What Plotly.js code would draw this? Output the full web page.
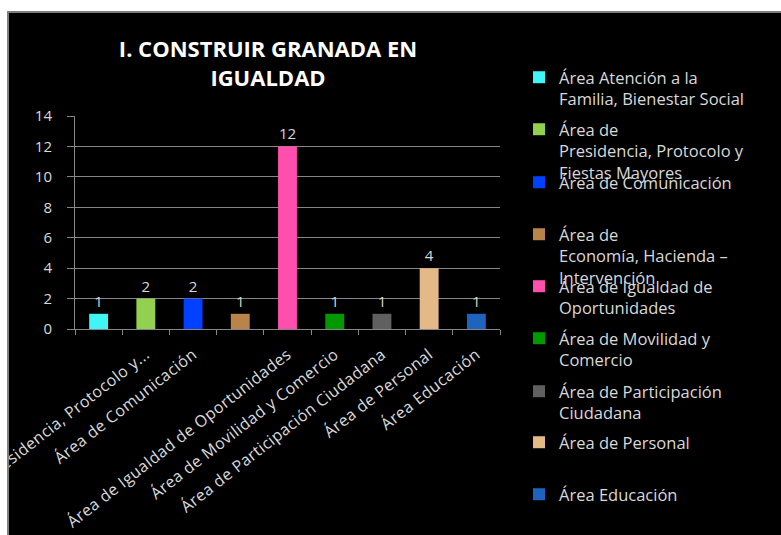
<!DOCTYPE html>
<html>
<head>
<meta charset="utf-8">
<script src="https://cdn.plot.ly/plotly-3.0.1.min.js"></script>
<style>
  html, body { margin: 0; padding: 0; background: #ffffff; width: 781px; height: 535px; overflow: hidden; }
  #wrap { position: absolute; left: 7px; top: 11px; width: 772px; height: 522px;
          border-left: 2px solid #7f7f7f; border-top: 2px solid #7f7f7f; background: #000; }
  #chart { width: 772px; height: 522px; }
  #chart .xtick text { letter-spacing: 0.4px; }
</style>
</head>
<body>
<div id="wrap"><div id="chart"></div></div>
<script>
// ---- data ----
const categories = [
  "Área Atención a la Familia, Bienestar Social",
  "Área de Presidencia, Protocolo y Fiestas Mayores",
  "Área de Comunicación",
  "Área de Economía, Hacienda – Intervención",
  "Área de Igualdad de Oportunidades",
  "Área de Movilidad y Comercio",
  "Área de Participación Ciudadana",
  "Área de Personal",
  "Área Educación"
];
const values = [1, 2, 2, 1, 12, 1, 1, 4, 1];
const tickLabels = [
  "",
  "Área de Presidencia, Protocolo y...",
  "Área de Comunicación",
  "",
  "Área de Igualdad de Oportunidades",
  "Área de Movilidad y Comercio",
  "Área de Participación Ciudadana",
  "Área de Personal",
  "Área Educación"
];
const legendLabels = [
  "Área Atención a la<br>Familia, Bienestar Social",
  "Área de<br>Presidencia, Protocolo y<br>Fiestas Mayores",
  "Área de Comunicación",
  "Área de<br>Economía, Hacienda –<br>Intervención",
  "Área de Igualdad de<br>Oportunidades",
  "Área de Movilidad y<br>Comercio",
  "Área de Participación<br>Ciudadana",
  "Área de Personal",
  "Área Educación"
];
const colors = ["#3ff5f5", "#92d050", "#0040ff", "#b8844a", "#ff4fae", "#009a00", "#606060", "#e3b985", "#1e64be"];
const titleText = "I. CONSTRUIR GRANADA EN<br>IGUALDAD";

// ---- styling ----
const W = 772, H = 522;
const FONT = "Open Sans, sans-serif";
const TXT = "#d9d9d9";
const GRID = "#868686";
const legendLineCentersPx = [65, 117, 170, 222, 274, 326, 379, 430, 482];
const legendLeftPx = 510;
const legendTopOffset = 18;

const traces = categories.map((c, i) => ({
  type: "bar",
  x: [c],
  y: [values[i]],
  name: legendLabels[i],
  marker: { color: colors[i] },
  text: [String(values[i])],
  textposition: "outside",
  textfont: { family: FONT, size: 15, color: TXT },
  cliponaxis: false,
  hoverinfo: "x+y",
  legend: i === 0 ? "legend" : "legend" + (i + 1)
}));

const layout = {
  width: W, height: H,
  margin: { l: 66, r: 281, t: 103, b: 206, pad: 0 },
  paper_bgcolor: "#000000",
  plot_bgcolor: "#000000",
  barmode: "overlay",
  bargap: 0.6,
  showlegend: true,
  title: {
    text: titleText,
    font: { family: FONT, size: 22, color: "#ffffff", weight: "bold" },
    xref: "container", yref: "container",
    x: 259 / W, xanchor: "center",
    y: 1 - 44 / H, yanchor: "top"
  },
  xaxis: {
    type: "category",
    categoryorder: "array",
    categoryarray: categories,
    tickvals: categories,
    ticktext: tickLabels,
    tickangle: -38,
    tickfont: { family: FONT, size: 16, color: TXT },
    ticklabelstandoff: 9,
    showline: true, linecolor: GRID, linewidth: 1,
    ticks: "outside", tickson: "boundaries", ticklen: 5, tickcolor: GRID,
    showgrid: false, zeroline: false,
    automargin: false
  },
  yaxis: {
    range: [0, 14], dtick: 2, tick0: 0,
    tickfont: { family: FONT, size: 15, color: TXT },
    showline: true, linecolor: GRID, linewidth: 1,
    ticks: "outside", ticklen: 7, tickcolor: GRID,
    ticklabelstandoff: 12,
    showgrid: true, gridcolor: GRID, gridwidth: 1,
    zeroline: false,
    automargin: false
  }
};

legendLineCentersPx.forEach((cy, i) => {
  const key = i === 0 ? "legend" : "legend" + (i + 1);
  layout[key] = {
    xref: "container", yref: "container",
    x: legendLeftPx / W, xanchor: "left",
    y: 1 - (cy - legendTopOffset) / H, yanchor: "top",
    bgcolor: "rgba(0,0,0,0)",
    borderwidth: 0,
    valign: "top",
    font: { family: FONT, size: 16.5, color: TXT }
  };
});

Plotly.newPlot("chart", traces, layout, { displayModeBar: false, staticPlot: true });
</script>
</body>
</html>
